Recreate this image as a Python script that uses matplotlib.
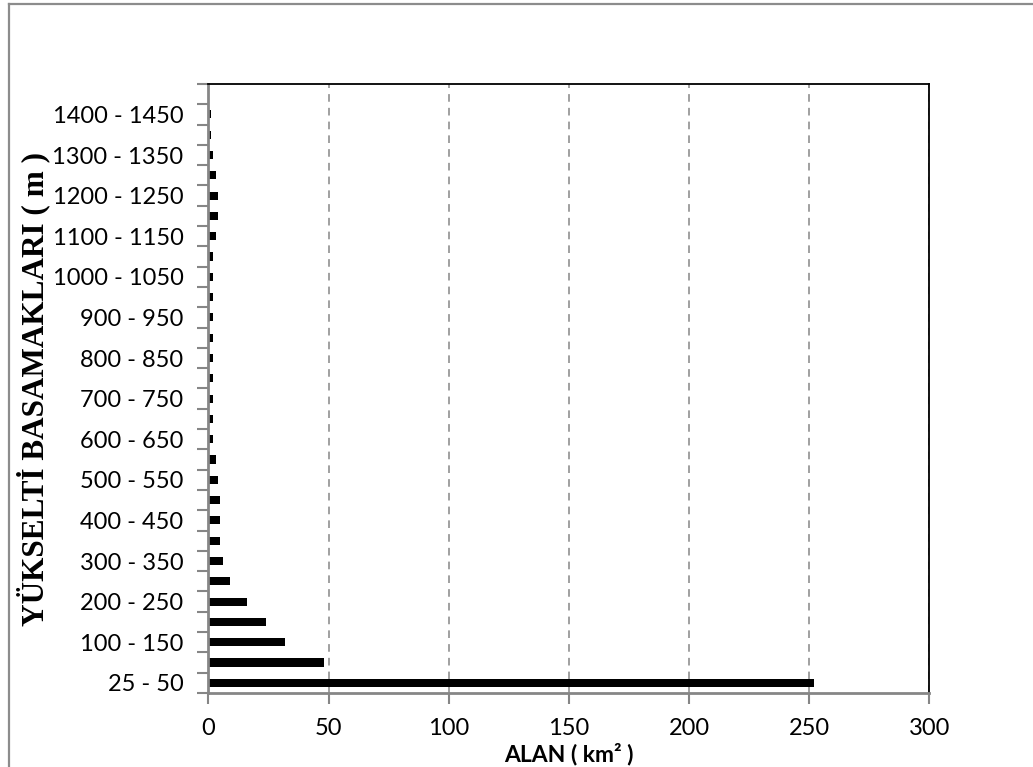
import matplotlib.pyplot as plt
from matplotlib.lines import Line2D

# elevation classes (m) and area (km2)
classes = ["25 - 50", "50 - 100", "100 - 150", "150 - 200", "200 - 250", "250 - 300",
           "300 - 350", "350 - 400", "400 - 450", "450 - 500", "500 - 550", "550 - 600",
           "600 - 650", "650 - 700", "700 - 750", "750 - 800", "800 - 850", "850 - 900",
           "900 - 950", "950 - 1000", "1000 - 1050", "1050 - 1100", "1100 - 1150",
           "1150 - 1200", "1200 - 1250", "1250 - 1300", "1300 - 1350", "1350 - 1400",
           "1400 - 1450", "1450 - 1500"]
area = [252, 48, 32, 24, 16, 9, 6, 5, 5, 5, 4, 3, 2, 2, 2, 2, 2, 2, 2, 2,
        2, 2, 3, 4, 4, 3, 2, 1, 1, 0]
x_ticks = [0, 50, 100, 150, 200, 250, 300]

gray = "#868686"

fig = plt.figure(figsize=(10.33, 7.67), dpi=100)
ax = fig.add_axes([0.2018, 0.0965, 0.6980, 0.7940])

pos = list(range(len(classes)))
ax.barh(pos, area, height=0.4, color="black")

ax.set_xlim(0, 300)
ax.set_ylim(-0.5, len(classes) - 0.5)

# x axis
ax.set_xticks(x_ticks)
ax.set_xticklabels([str(t) for t in x_ticks], fontsize=17, family="Lato")
ax.tick_params(axis="x", direction="out", length=8, width=1.5, color=gray, pad=10)
ax.xaxis.grid(True, linestyle=(0, (5, 4)), color=gray, linewidth=1.1)
ax.set_axisbelow(True)

# y axis: marks at class boundaries, labels on every other class
ax.set_yticks([p - 0.5 for p in pos] + [len(classes) - 0.5])
ax.set_yticklabels([])
ax.tick_params(axis="y", which="major", direction="out", length=8, width=1.5, color=gray)
ax.set_yticks(pos[::2], minor=True)
ax.set_yticklabels(classes[::2], minor=True, fontsize=17, family="Lato")
ax.tick_params(axis="y", which="minor", length=0, pad=18)

for s in ["left", "bottom"]:
    ax.spines[s].set_color(gray)
    ax.spines[s].set_linewidth(2)
for s in ["top", "right"]:
    ax.spines[s].set_color("black")
    ax.spines[s].set_linewidth(1.3)

ax.set_xlabel("ALAN ( km² )", fontsize=16.5, fontweight="bold", family="Lato", va="center")
ax.xaxis.set_label_coords(0.5, -0.1)
fig.text(0.032, 0.493, "YÜKSELTİ BASAMAKLARI ( m )", rotation=90, ha="center", va="center",
         fontsize=22.5, fontweight="bold", family="Liberation Serif")

# outer chart border (top and left only visible)
fig.add_artist(Line2D([9 / 1033, 9 / 1033], [0, 1 - 4 / 767], color="#8c8c8c", linewidth=1.6))
fig.add_artist(Line2D([9 / 1033, 1], [1 - 4 / 767, 1 - 4 / 767], color="#8c8c8c", linewidth=1.6))

plt.savefig("out.png", dpi=100)
